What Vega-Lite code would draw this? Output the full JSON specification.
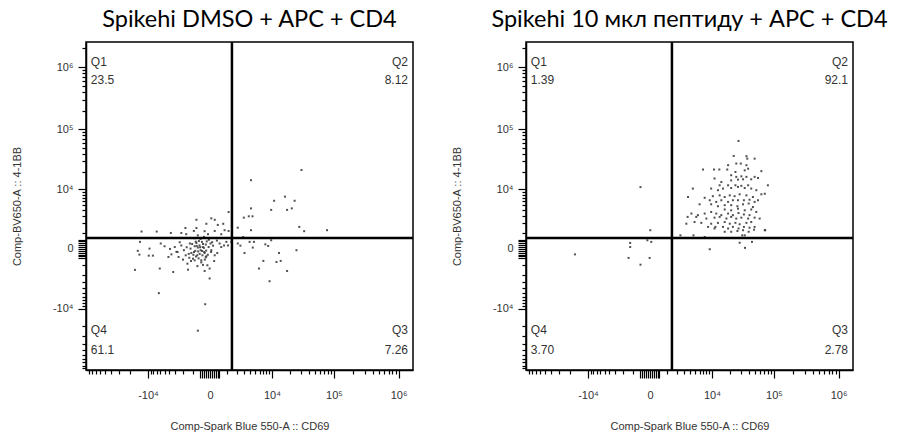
{
  "$schema": "https://vega.github.io/schema/vega-lite/v6.json",
  "padding": {"left": 10, "top": 7, "right": 2, "bottom": 4},
  "background": "white",
  "datasets": {
    "left": [
      {"x":30800,"y":21500},{"x":4100,"y":14400},{"x":10900,"y":6100},{"x":16600,"y":7300},{"x":23900,"y":6100},
      {"x":9700,"y":4000},{"x":18000,"y":4000},{"x":21500,"y":4300},{"x":4100,"y":4300},{"x":1170,"y":3600},
      {"x":2900,"y":2700},{"x":3700,"y":2900},{"x":4400,"y":2900},{"x":28400,"y":1560},{"x":34000,"y":1150},
      {"x":78000,"y":1240},{"x":4100,"y":1240},{"x":2100,"y":1480},{"x":2800,"y":690},{"x":-770,"y":2400},
      {"x":60,"y":2600},{"x":230,"y":2400},{"x":750,"y":1900},{"x":400,"y":1770},{"x":-170,"y":1900},
      {"x":-770,"y":1450},{"x":-960,"y":1170},{"x":-1730,"y":1450},{"x":-260,"y":1150},{"x":230,"y":1170},
      {"x":850,"y":1240},{"x":1170,"y":1170},{"x":-12900,"y":1120},{"x":-7000,"y":1120},{"x":-3750,"y":1000},
      {"x":-2200,"y":1000},{"x":-1650,"y":900},{"x":-670,"y":810},{"x":-90,"y":900},{"x":615,"y":900},
      {"x":-13700,"y":370},{"x":-14900,"y":-90},{"x":-14000,"y":-290},{"x":-16600,"y":-1450},{"x":-9400,"y":15},
      {"x":-9700,"y":-350},{"x":-8200,"y":-350},{"x":-6150,"y":-1320},{"x":-6400,"y":-5100},{"x":-5900,"y":277},
      {"x":-5000,"y":130},{"x":-4200,"y":-430},{"x":-3650,"y":-277},{"x":-3350,"y":-1670},{"x":-3100,"y":90},
      {"x":-2850,"y":-140},{"x":-2550,"y":-430},{"x":-2200,"y":170},{"x":-1900,"y":-60},{"x":-1700,"y":-330},
      {"x":-1530,"y":-900},{"x":-1470,"y":-1430},{"x":-1300,"y":277},{"x":-1240,"y":15},{"x":-1170,"y":-200},
      {"x":-1030,"y":-540},{"x":-900,"y":130},{"x":-850,"y":-90},{"x":-770,"y":310},{"x":-710,"y":-330},
      {"x":-670,"y":65},{"x":-560,"y":170},{"x":-490,"y":-60},{"x":-450,"y":-650},{"x":-410,"y":370},
      {"x":-360,"y":90},{"x":-260,"y":-200},{"x":-200,"y":220},{"x":-170,"y":-390},{"x":-120,"y":-1030},
      {"x":-60,"y":90},{"x":-15,"y":-1320},{"x":25,"y":277},{"x":-260,"y":-1560},{"x":-15,"y":-2450},
      {"x":-230,"y":-8300},{"x":-670,"y":-24000},{"x":60,"y":-60},{"x":145,"y":160},{"x":230,"y":-330},
      {"x":370,"y":-200},{"x":510,"y":277},{"x":615,"y":90},{"x":811,"y":170},{"x":985,"y":370},
      {"x":1120,"y":170},{"x":1420,"y":370},{"x":2100,"y":277},{"x":2430,"y":160},{"x":3000,"y":-200},
      {"x":3850,"y":370},{"x":4450,"y":65},{"x":4700,"y":370},{"x":5850,"y":-1320},{"x":7050,"y":-690},
      {"x":7650,"y":230},{"x":8600,"y":145},{"x":9100,"y":-2850},{"x":9700,"y":470},{"x":11950,"y":-770},
      {"x":13200,"y":-200},{"x":14100,"y":-690},{"x":18000,"y":-1560},{"x":25600,"y":-60},{"x":-3900,"y":0},
      {"x":-300,"y":50},{"x":-400,"y":-100},{"x":-550,"y":-250},{"x":-200,"y":-450},{"x":-650,"y":-120},
      {"x":-750,"y":150},{"x":-350,"y":250},{"x":-100,"y":-300},{"x":-250,"y":-600},{"x":-450,"y":-800},
      {"x":-800,"y":-400},{"x":-950,"y":-150},{"x":-1100,"y":250},{"x":-600,"y":420},{"x":-150,"y":400},
      {"x":50,"y":-150},{"x":100,"y":350},{"x":-50,"y":500},{"x":-300,"y":700},{"x":-500,"y":550},
      {"x":-900,"y":600},{"x":-1400,"y":-250},{"x":-1600,"y":80},{"x":-2000,"y":-600},{"x":-2400,"y":350},
      {"x":-700,"y":-1100},{"x":-350,"y":-1000},{"x":200,"y":-700},{"x":350,"y":450},{"x":-1200,"y":-700},
      {"x":-1000,"y":-300},{"x":-620,"y":-520},{"x":-380,"y":-330},{"x":-820,"y":380},{"x":-280,"y":-150},
      {"x":-1350,"y":-480},{"x":-520,"y":80},{"x":-180,"y":-80},{"x":-900,"y":-650},{"x":-2700,"y":-150}
    ],
    "right": [
      {"x":-500,"y":10900},{"x":15,"y":1240},{"x":-120,"y":470},{"x":60,"y":370},{"x":-1270,"y":310},
      {"x":-1270,"y":90},{"x":-1420,"y":-490},{"x":-500,"y":-980},{"x":-15,"y":-490},{"x":-16600,"y":-277},
      {"x":9160,"y":-15},{"x":28810,"y":320},{"x":35080,"y":50},{"x":45300,"y":370},
      {"x":2430,"y":811},{"x":4600,"y":811},{"x":7450,"y":690},{"x":31640,"y":811},{"x":34730,"y":811},{"x":73000,"y":1240},
      {"x":27630,"y":65000},{"x":23110,"y":36960},{"x":36960,"y":36590},{"x":38130,"y":33330},{"x":49820,"y":33330},
      {"x":18700,"y":25950},{"x":25410,"y":27630},{"x":30040,"y":27630},{"x":36960,"y":25950},{"x":6940,"y":21930},
      {"x":10850,"y":21930},{"x":13370,"y":21930},{"x":18110,"y":21930},{"x":24620,"y":19930},{"x":34730,"y":21240},
      {"x":39320,"y":22630},{"x":63620,"y":20580},{"x":21010,"y":17540},{"x":25410,"y":16440},{"x":30670,"y":16800},
      {"x":36960,"y":16440},{"x":49820,"y":16440},{"x":56330,"y":15750},{"x":11090,"y":15410},{"x":14440,"y":13370},
      {"x":21010,"y":14290},{"x":27060,"y":14760},{"x":32640,"y":14920},{"x":44040,"y":14920},{"x":13530,"y":11730},
      {"x":18700,"y":11730},{"x":24620,"y":11730},{"x":30670,"y":11470},{"x":39320,"y":11730},{"x":80500,"y":11730},
      {"x":4470,"y":10260},{"x":9700,"y":10260},{"x":12670,"y":9590},{"x":15410,"y":10260},{"x":21010,"y":10490},
      {"x":27060,"y":10970},{"x":34730,"y":10490},{"x":44040,"y":10260},{"x":52980,"y":9590},{"x":3570,"y":7190},
      {"x":7450,"y":6940},{"x":10370,"y":7450},{"x":13530,"y":7710},{"x":16440,"y":7190},{"x":19930,"y":7710},
      {"x":23860,"y":7450},{"x":28810,"y":8080},{"x":36960,"y":7710},{"x":46850,"y":7190},{"x":63620,"y":8080},
      {"x":72000,"y":8260},{"x":9160,"y":6240},{"x":11860,"y":5800},{"x":14440,"y":6240},{"x":18700,"y":5800},
      {"x":22400,"y":6240},{"x":27060,"y":6240},{"x":33680,"y":6240},{"x":41380,"y":6390},{"x":49820,"y":5800},
      {"x":56330,"y":6240},{"x":6020,"y":5200},{"x":9700,"y":5200},{"x":12670,"y":4760},{"x":16440,"y":5000},
      {"x":21010,"y":5000},{"x":26500,"y":4760},{"x":32640,"y":5200},{"x":40130,"y":5390},{"x":46850,"y":4580},
      {"x":16440,"y":4080},{"x":21010,"y":3920},{"x":27060,"y":4240},{"x":34730,"y":3920},{"x":44040,"y":4080},
      {"x":52980,"y":3620},{"x":4190,"y":3340},{"x":5590,"y":3080},{"x":7450,"y":3340},{"x":9700,"y":3620},
      {"x":11860,"y":3340},{"x":14440,"y":3080},{"x":18700,"y":3340},{"x":22400,"y":3080},{"x":27630,"y":3430},
      {"x":33680,"y":3200},{"x":41380,"y":3080},{"x":3500,"y":2810},{"x":5200,"y":2810},{"x":7990,"y":2570},
      {"x":11090,"y":2700},{"x":13530,"y":2810},{"x":17540,"y":2570},{"x":21010,"y":2810},{"x":25410,"y":2570},
      {"x":30670,"y":2700},{"x":39320,"y":2570},{"x":49820,"y":2700},{"x":59890,"y":2570},{"x":4820,"y":2110},
      {"x":6470,"y":2010},{"x":9700,"y":1910},{"x":12670,"y":2010},{"x":16440,"y":2110},{"x":19930,"y":1910},
      {"x":24620,"y":2010},{"x":28810,"y":1850},{"x":36960,"y":2010},{"x":44040,"y":2110},{"x":3290,"y":1910},
      {"x":8570,"y":1560},{"x":11470,"y":1560},{"x":15410,"y":1560},{"x":18700,"y":1400},{"x":22400,"y":1560},
      {"x":27630,"y":1400},{"x":33680,"y":1560},{"x":41380,"y":1480},{"x":49820,"y":1560},{"x":16440,"y":1100},
      {"x":21010,"y":1100},{"x":26500,"y":1170},{"x":32640,"y":1240},{"x":40130,"y":1100},{"x":48800,"y":1290},
      {"x":11090,"y":1400},{"x":72000,"y":1240}
    ],
    "vgate": [{"x": 1475, "y": -106000, "y2": 2520000}],
    "hgate": [{"x": -100000, "x2": 1670000, "y": 615}],
    "labelsLeft": [
      {"x": -84000, "y": 1210000, "t": "Q1", "a": "left"},
      {"x": -84000, "y": 621000, "t": "23.5", "a": "left"},
      {"x": 1400000, "y": 1210000, "t": "Q2", "a": "right"},
      {"x": 1400000, "y": 621000, "t": "8.12", "a": "right"},
      {"x": -84000, "y": -23400, "t": "Q4", "a": "left"},
      {"x": -84000, "y": -49900, "t": "61.1", "a": "left"},
      {"x": 1400000, "y": -23400, "t": "Q3", "a": "right"},
      {"x": 1400000, "y": -49900, "t": "7.26", "a": "right"}
    ],
    "labelsRight": [
      {"x": -84000, "y": 1210000, "t": "Q1", "a": "left"},
      {"x": -84000, "y": 621000, "t": "1.39", "a": "left"},
      {"x": 1400000, "y": 1210000, "t": "Q2", "a": "right"},
      {"x": 1400000, "y": 621000, "t": "92.1", "a": "right"},
      {"x": -84000, "y": -23400, "t": "Q4", "a": "left"},
      {"x": -84000, "y": -49900, "t": "3.70", "a": "left"},
      {"x": 1400000, "y": -23400, "t": "Q3", "a": "right"},
      {"x": 1400000, "y": -49900, "t": "2.78", "a": "right"}
    ]
  },
  "hconcat": [
    {
      "width": 327, "height": 328,
      "title": {"text": "Spikehi DMSO + APC + CD4"},
      "encoding": {
        "x": {"field": "x", "type": "quantitative", "scale": {"type": "symlog", "constant": 1250, "domain": [-100000, 1670000], "nice": false, "zero": false},
          "axis": {"title": "Comp-Spark Blue 550-A :: CD69", "labelOverlap": false, "labelBound": false, "labelFlush": false,
            "values": [-90000,-80000,-70000,-60000,-50000,-40000,-30000,-20000,-10000,-9000,-8000,-7000,-6000,-5000,-4000,-3000,-2000,-1000,-500,-400,-300,-200,-100,0,100,200,300,400,500,1000,2000,3000,4000,5000,6000,7000,8000,9000,10000,20000,30000,40000,50000,60000,70000,80000,90000,100000,200000,300000,400000,500000,600000,700000,800000,900000,1000000],
            "labelExpr": "datum.value == 1000000 ? '10⁶' : datum.value == 100000 ? '10⁵' : datum.value == 10000 ? '10⁴' : datum.value == -10000 ? '-10⁴' : datum.value == 0 ? '0' : ''",
            "tickSize": {"condition": {"test": "datum.value == 1000000 || datum.value == 100000 || datum.value == 10000 || datum.value == -10000 || abs(datum.value) <= 500", "value": 8}, "value": 4}}},
        "y": {"field": "y", "type": "quantitative", "scale": {"type": "symlog", "constant": 1250, "domain": [-106000, 2520000], "nice": false, "zero": false},
          "axis": {"title": "Comp-BV650-A :: 4-1BB", "labelOverlap": false, "labelBound": false, "labelFlush": false,
            "values": [-100000,-90000,-80000,-70000,-60000,-50000,-40000,-30000,-20000,-10000,-9000,-8000,-7000,-6000,-5000,-4000,-3000,-2000,-1000,-500,-400,-300,-200,-100,0,100,200,300,400,500,1000,2000,3000,4000,5000,6000,7000,8000,9000,10000,20000,30000,40000,50000,60000,70000,80000,90000,100000,200000,300000,400000,500000,600000,700000,800000,900000,1000000,2000000],
            "labelExpr": "datum.value == 1000000 ? '10⁶' : datum.value == 100000 ? '10⁵' : datum.value == 10000 ? '10⁴' : datum.value == -10000 ? '-10⁴' : datum.value == 0 ? '0' : ''",
            "tickSize": {"condition": {"test": "datum.value == 1000000 || datum.value == 100000 || datum.value == 10000 || datum.value == -10000 || abs(datum.value) <= 500", "value": 8}, "value": 4}}}
      },
      "layer": [
        {
          "data": {"name": "left"},
          "mark": {"type": "square", "size": 4, "color": "#333333", "opacity": 0.85}
        },
        {
          "data": {"name": "vgate"},
          "mark": {"type": "rule", "color": "black", "strokeWidth": 2.5},
          "encoding": {"y2": {"field": "y2"}}
        },
        {
          "data": {"name": "hgate"},
          "mark": {"type": "rule", "color": "black", "strokeWidth": 2.5},
          "encoding": {"x2": {"field": "x2"}}
        },
        {
          "data": {"name": "labelsLeft"},
          "transform": [{"filter": "datum.a == 'left'"}],
          "mark": {"type": "text", "font": "Liberation Sans", "fontSize": 12, "color": "#333333", "baseline": "middle", "align": "left"},
          "encoding": {"text": {"field": "t"}}
        },
        {
          "data": {"name": "labelsLeft"},
          "transform": [{"filter": "datum.a == 'right'"}],
          "mark": {"type": "text", "font": "Liberation Sans", "fontSize": 12, "color": "#333333", "baseline": "middle", "align": "right"},
          "encoding": {"text": {"field": "t"}}
        }
      ]
    },
    {
      "width": 327, "height": 328,
      "title": {"text": "Spikehi 10 мкл пептиду + APC + CD4"},
      "encoding": {
        "x": {"field": "x", "type": "quantitative", "scale": {"type": "symlog", "constant": 1250, "domain": [-100000, 1670000], "nice": false, "zero": false},
          "axis": {"title": "Comp-Spark Blue 550-A :: CD69", "labelOverlap": false, "labelBound": false, "labelFlush": false,
            "values": [-90000,-80000,-70000,-60000,-50000,-40000,-30000,-20000,-10000,-9000,-8000,-7000,-6000,-5000,-4000,-3000,-2000,-1000,-500,-400,-300,-200,-100,0,100,200,300,400,500,1000,2000,3000,4000,5000,6000,7000,8000,9000,10000,20000,30000,40000,50000,60000,70000,80000,90000,100000,200000,300000,400000,500000,600000,700000,800000,900000,1000000],
            "labelExpr": "datum.value == 1000000 ? '10⁶' : datum.value == 100000 ? '10⁵' : datum.value == 10000 ? '10⁴' : datum.value == -10000 ? '-10⁴' : datum.value == 0 ? '0' : ''",
            "tickSize": {"condition": {"test": "datum.value == 1000000 || datum.value == 100000 || datum.value == 10000 || datum.value == -10000 || abs(datum.value) <= 500", "value": 8}, "value": 4}}},
        "y": {"field": "y", "type": "quantitative", "scale": {"type": "symlog", "constant": 1250, "domain": [-106000, 2520000], "nice": false, "zero": false},
          "axis": {"title": "Comp-BV650-A :: 4-1BB", "labelOverlap": false, "labelBound": false, "labelFlush": false,
            "values": [-100000,-90000,-80000,-70000,-60000,-50000,-40000,-30000,-20000,-10000,-9000,-8000,-7000,-6000,-5000,-4000,-3000,-2000,-1000,-500,-400,-300,-200,-100,0,100,200,300,400,500,1000,2000,3000,4000,5000,6000,7000,8000,9000,10000,20000,30000,40000,50000,60000,70000,80000,90000,100000,200000,300000,400000,500000,600000,700000,800000,900000,1000000,2000000],
            "labelExpr": "datum.value == 1000000 ? '10⁶' : datum.value == 100000 ? '10⁵' : datum.value == 10000 ? '10⁴' : datum.value == -10000 ? '-10⁴' : datum.value == 0 ? '0' : ''",
            "tickSize": {"condition": {"test": "datum.value == 1000000 || datum.value == 100000 || datum.value == 10000 || datum.value == -10000 || abs(datum.value) <= 500", "value": 8}, "value": 4}}}
      },
      "layer": [
        {
          "data": {"name": "right"},
          "mark": {"type": "square", "size": 4, "color": "#333333", "opacity": 0.85}
        },
        {
          "data": {"name": "vgate"},
          "mark": {"type": "rule", "color": "black", "strokeWidth": 2.5},
          "encoding": {"y2": {"field": "y2"}}
        },
        {
          "data": {"name": "hgate"},
          "mark": {"type": "rule", "color": "black", "strokeWidth": 2.5},
          "encoding": {"x2": {"field": "x2"}}
        },
        {
          "data": {"name": "labelsRight"},
          "transform": [{"filter": "datum.a == 'left'"}],
          "mark": {"type": "text", "font": "Liberation Sans", "fontSize": 12, "color": "#333333", "baseline": "middle", "align": "left"},
          "encoding": {"text": {"field": "t"}}
        },
        {
          "data": {"name": "labelsRight"},
          "transform": [{"filter": "datum.a == 'right'"}],
          "mark": {"type": "text", "font": "Liberation Sans", "fontSize": 12, "color": "#333333", "baseline": "middle", "align": "right"},
          "encoding": {"text": {"field": "t"}}
        }
      ]
    }
  ],
  "spacing": 113,
  "bounds": "flush",
  "config": {
    "view": {"stroke": "black", "strokeWidth": 1.5},
    "title": {"font": "Lato", "fontSize": 23.5, "fontWeight": "normal", "color": "black", "anchor": "middle", "offset": 9},
    "axis": {
      "grid": false,
      "domainColor": "black", "domainWidth": 1.5,
      "tickColor": "black", "tickWidth": 1.2,
      "labelFont": "Liberation Sans", "labelFontSize": 11, "labelColor": "#333333",
      "titleFont": "Liberation Sans", "titleFontSize": 11, "titleFontWeight": "normal", "titleColor": "#333333"
    },
    "axisX": {"labelPadding": 11, "titlePadding": 20},
    "axisY": {"labelPadding": 5, "titlePadding": 30}
  }
}
